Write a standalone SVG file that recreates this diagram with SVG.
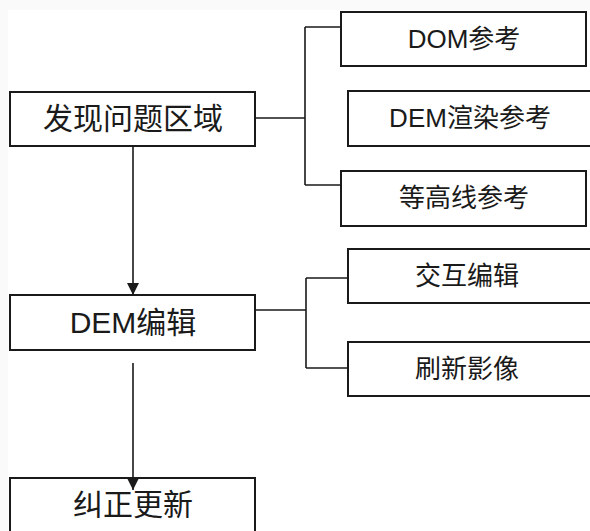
<svg xmlns="http://www.w3.org/2000/svg" width="590" height="531" viewBox="0 0 590 531">
<style>
.box{fill:#fff;stroke:#1a1a1a;stroke-width:2}
.ln{fill:none;stroke:#1a1a1a;stroke-width:1.6}
.t{font-family:"Liberation Sans","Noto Sans CJK SC",sans-serif;fill:#1a1a1a;text-anchor:middle;dominant-baseline:central}
.l{font-size:30px}
.r{font-size:26px}
</style>
<defs>
<marker id="arr" viewBox="0 0 12 12" refX="12" refY="6" markerWidth="12" markerHeight="12" markerUnits="userSpaceOnUse" orient="auto">
<path d="M0,0 L12,6 L0,12 Z" fill="#1a1a1a"/>
</marker>
</defs>
<rect width="590" height="531" fill="#f9faf9"/>
<rect x="8" y="10" width="582" height="521" fill="#fff"/>
<g id="n1"><rect class="box" x="10" y="92" width="245" height="54"/><text class="t l" x="133" y="118">发现问题区域</text></g>
<g id="n2"><rect class="box" x="341" y="12" width="245" height="54"/><text class="t r" x="464" y="39">DOM参考</text></g>
<g id="n3"><rect class="box" x="348" y="91" width="250" height="55"/><text class="t r" x="470" y="118">DEM渲染参考</text></g>
<g id="n4"><rect class="box" x="341" y="171" width="245" height="55"/><text class="t r" x="464" y="198">等高线参考</text></g>
<g id="n5"><rect class="box" x="10" y="295" width="245" height="55"/><text class="t l" x="133" y="322">DEM编辑</text></g>
<g id="n6"><rect class="box" x="348" y="249" width="250" height="54"/><text class="t r" x="467" y="276">交互编辑</text></g>
<g id="n7"><rect class="box" x="348" y="342" width="250" height="54"/><text class="t r" x="467" y="369">刷新影像</text></g>
<g id="n8"><rect class="box" x="10" y="478" width="245" height="60"/><text class="t l" x="133" y="504">纠正更新</text></g>
<g id="connectors">
<path class="ln" d="M255,118 H305 M305,27 V185 M305,27 H341 M305,185 H341"/>
<path class="ln" d="M255,310 H306 M306,278 V368 M306,278 H348 M306,368 H348"/>
<path class="ln" d="M133,146 V295" marker-end="url(#arr)"/>
<path class="ln" d="M133,363 V490" marker-end="url(#arr)"/>
</g>
</svg>
